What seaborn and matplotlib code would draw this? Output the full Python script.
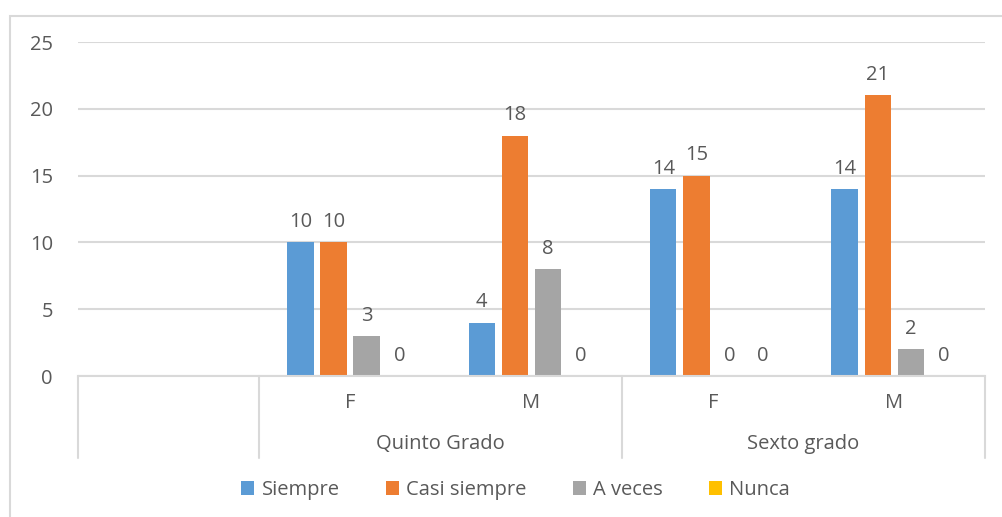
import pandas as pd
import seaborn as sns
import matplotlib.pyplot as plt
from matplotlib.patches import Rectangle, Patch
from matplotlib.transforms import blended_transform_factory

# Datos
grados = ["Quinto Grado", "Quinto Grado", "Sexto grado", "Sexto grado"]
sexos = ["F", "M", "F", "M"]
siempre = [10, 4, 14, 14]
casi_siempre = [10, 18, 15, 21]
a_veces = [3, 8, 0, 2]
nunca = [0, 0, 0, 0]
respuestas = ["Siempre", "Casi siempre", "A veces", "Nunca"]
colores = ["#5B9BD5", "#ED7D31", "#A5A5A5", "#FFC000"]

categorias = [g + " " + s for g, s in zip(grados, sexos)]
orden = ["vacio"] + categorias

registros = []
for resp, valores in zip(respuestas, [siempre, casi_siempre, a_veces, nunca]):
    for cat, v in zip(categorias, valores):
        registros.append({"Categoria": cat, "Respuesta": resp, "Valor": v})
df = pd.DataFrame(registros)

sns.set_theme(style="white")
plt.rcParams["font.family"] = ["Open Sans", "DejaVu Sans"]
gris_texto = "#595959"
gris_linea = "#D9D9D9"
fs = 14.5

fig = plt.figure(figsize=(10.03, 5.17), dpi=100)
ax = fig.add_axes([78 / 1003, 1 - 376 / 517, (985 - 78) / 1003, (376 - 42) / 517])

sns.barplot(data=df, x="Categoria", y="Valor", hue="Respuesta", order=orden,
            hue_order=respuestas, palette=colores, saturation=1, width=0.73,
            gap=0.2, linewidth=0, legend=False, ax=ax)

for cont in ax.containers:
    ax.bar_label(cont, padding=7.5, fontsize=fs, color=gris_texto)

ax.set_xlim(-0.5, len(orden) - 0.5)
ax.set_ylim(0, 25)
ax.set_yticks([0, 5, 10, 15, 20, 25])
ax.tick_params(axis="y", length=0, pad=18, labelsize=fs, labelcolor=gris_texto)
ax.set_xticks([])
ax.set_xlabel("")
ax.set_ylabel("")
ax.grid(axis="y", color=gris_linea, linewidth=1.5)
ax.set_axisbelow(True)
for lado in ["left", "right", "top"]:
    ax.spines[lado].set_visible(False)
ax.spines["bottom"].set_color(gris_linea)
ax.spines["bottom"].set_linewidth(1.5)

# Eje de categorías en dos niveles
tr = blended_transform_factory(ax.transData, ax.transAxes)
for xs in [-0.5, 0.5, 2.5, 4.5]:
    ax.plot([xs, xs], [0, -0.2455], transform=tr, color=gris_linea,
            linewidth=1.5, clip_on=False)
for i, s in enumerate(sexos):
    ax.text(i + 1, -0.081, s, transform=tr, ha="center", va="center",
            fontsize=fs, color=gris_texto)
ax.text(1.5, -0.204, "Quinto Grado", transform=tr, ha="center", va="center",
        fontsize=fs, color=gris_texto)
ax.text(3.5, -0.204, "Sexto grado", transform=tr, ha="center", va="center",
        fontsize=fs, color=gris_texto)

manijas = [Patch(facecolor=c, edgecolor="none") for c in colores]
fig.legend(manijas, respuestas, loc="center", bbox_to_anchor=(0.514, 1 - 490 / 517),
           ncol=4, frameon=False, fontsize=fs, labelcolor=gris_texto,
           handlelength=0.65, handleheight=0.65, handletextpad=0.35,
           columnspacing=2.3)

# Borde del área del gráfico (recortado)
fig.add_artist(Rectangle((10 / 1003, -0.1), 1.2, 1.1 - 15.5 / 517,
                         transform=fig.transFigure, fill=False,
                         edgecolor=gris_linea, linewidth=1.5))

fig.savefig("out.png", dpi=100)
